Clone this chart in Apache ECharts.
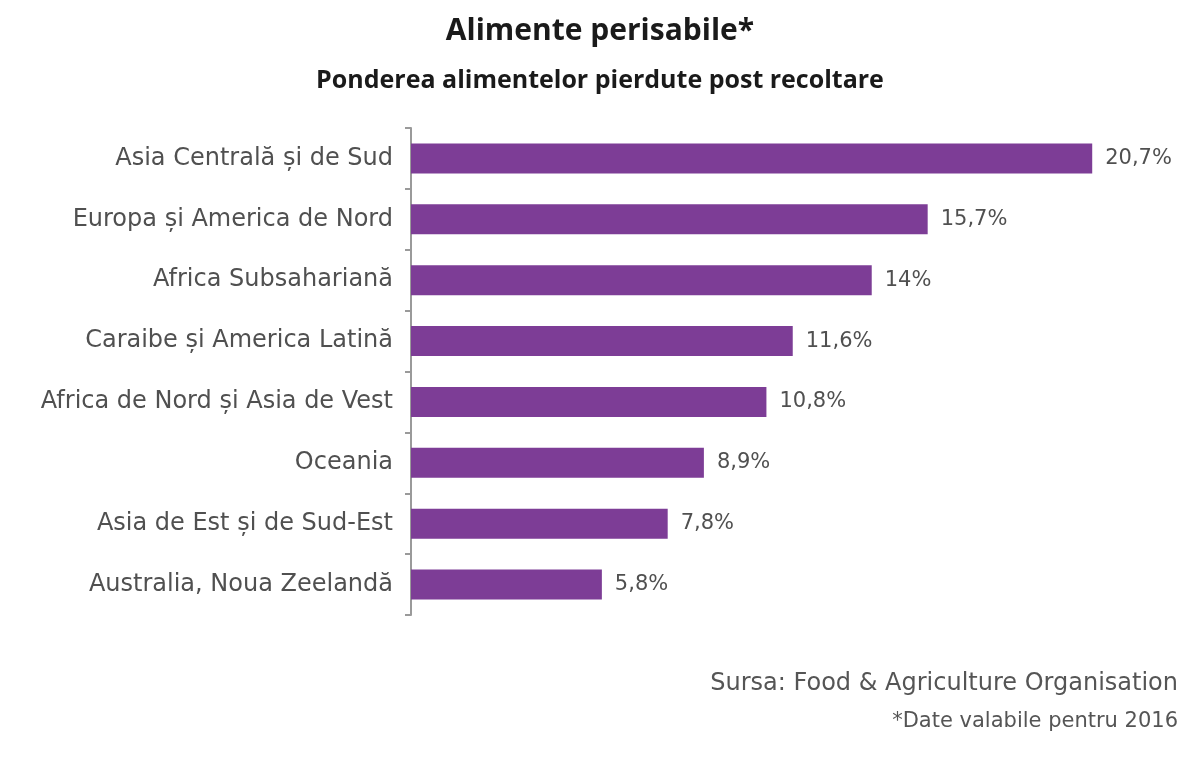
<!DOCTYPE html>
<html>
<head>
<meta charset="utf-8">
<title>Alimente perisabile</title>
<script src="https://cdn.jsdelivr.net/npm/echarts@6/dist/echarts.min.js"></script>
<style>
  html, body { margin: 0; padding: 0; background: #fff; }
  #chart { width: 1200px; height: 771px; }
</style>
</head>
<body>
<div id="chart"></div>
<script>
// regiuni si procente (ordinea de sus in jos)
const regions = [
  'Asia Centrală și de Sud',
  'Europa și America de Nord',
  'Africa Subsahariană',
  'Caraibe și America Latină',
  'Africa de Nord și Asia de Vest',
  'Oceania',
  'Asia de Est și de Sud-Est',
  'Australia, Noua Zeelandă'
]
const lossShare = [20.7, 15.7, 14, 11.6, 10.8, 8.9, 7.8, 5.8]

const titleFont = '"Open Sans", "Noto Sans", sans-serif'
const textFont = '"DejaVu Sans", sans-serif'
const chart = echarts.init(document.getElementById('chart'))

chart.setOption({
  animation: false,
  textStyle: { fontFamily: textFont },
  title: [
    {
      text: 'Alimente perisabile*',
      left: 'center',
      top: 11,
      textStyle: { fontSize: 30, fontWeight: 'bold', color: '#1a1a1a', fontFamily: titleFont }
    },
    {
      text: 'Ponderea alimentelor pierdute post recoltare',
      left: 'center',
      top: 63,
      textStyle: { fontSize: 25, fontWeight: 'bold', color: '#1a1a1a', fontFamily: titleFont }
    },
    {
      text: 'Sursa: Food & Agriculture Organisation',
      right: 17,
      top: 667,
      textStyle: { fontSize: 24, fontWeight: 'normal', color: '#555', fontFamily: textFont }
    },
    {
      text: '*Date valabile pentru 2016',
      right: 17,
      top: 706,
      textStyle: { fontSize: 21, fontWeight: 'normal', color: '#555', fontFamily: textFont }
    }
  ],
  grid: {
    left: 411,
    top: 128,
    width: 724,
    height: 487
  },
  xAxis: {
    type: 'value',
    min: 0,
    max: 22,
    show: false
  },
  yAxis: {
    type: 'category',
    inverse: true,
    data: regions,
    axisLine: { show: true, lineStyle: { color: '#9a9a9a', width: 2 } },
    axisTick: { show: true, length: 6, lineStyle: { color: '#9a9a9a', width: 2 } },
    axisLabel: { fontSize: 24, color: '#505050', margin: 18 }
  },
  series: [
    {
      type: 'bar',
      data: lossShare,
      barWidth: 30,
      itemStyle: { color: '#7d3d96' },
      label: {
        show: true,
        position: 'right',
        distance: 13,
        fontSize: 21,
        color: '#505050',
        formatter: p => String(p.value).replace('.', ',') + '%'
      }
    }
  ]
})
</script>
</body>
</html>
